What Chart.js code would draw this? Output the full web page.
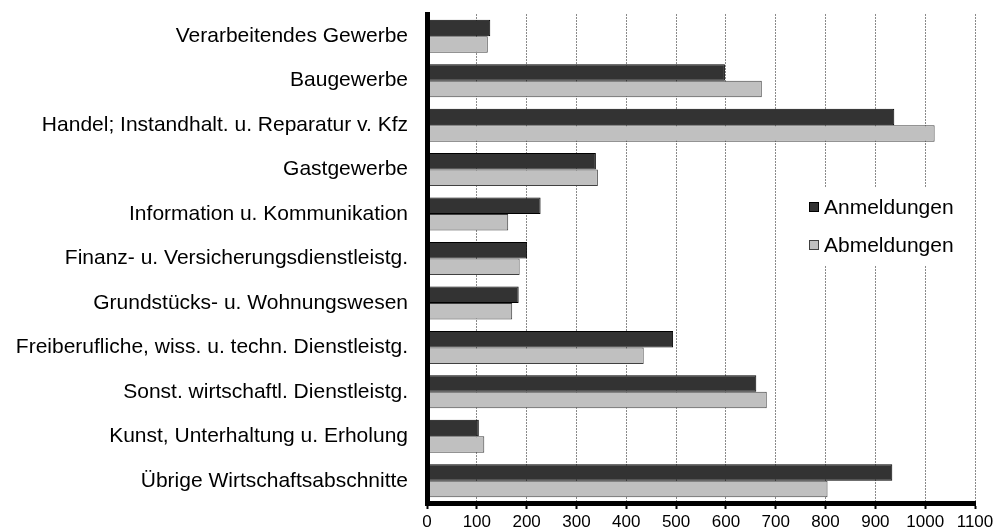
<!DOCTYPE html>
<html>
<head>
<meta charset="utf-8">
<script src="https://cdn.jsdelivr.net/npm/chart.js@4.4.1/dist/chart.umd.min.js"></script>
<style>
  html, body { margin: 0; padding: 0; background: #fff; }
  canvas { display: block; }
</style>
</head>
<body>
<canvas id="gewerbeChart" width="995" height="531"></canvas>
<script>
// Kategorien (Wirtschaftsabschnitte)
const categories = [
    'Verarbeitendes Gewerbe',
    'Baugewerbe',
    'Handel; Instandhalt. u. Reparatur v. Kfz',
    'Gastgewerbe',
    'Information u. Kommunikation',
    'Finanz- u. Versicherungsdienstleistg.',
    'Grundstücks- u. Wohnungswesen',
    'Freiberufliche, wiss. u. techn. Dienstleistg.',
    'Sonst. wirtschaftl. Dienstleistg.',
    'Kunst, Unterhaltung u. Erholung',
    'Übrige Wirtschaftsabschnitte'
];

const anmeldungen = [127, 598, 938, 339, 228, 201, 184, 494, 661, 104, 934];
const abmeldungen = [122, 672, 1019, 343, 163, 186, 171, 435, 682, 115, 804];

const xTicks = [0, 100, 200, 300, 400, 500, 600, 700, 800, 900, 1000, 1100];

const fontFamily = "'Liberation Sans', Arial, sans-serif";
Chart.defaults.color = '#000';
Chart.defaults.font.family = fontFamily;

// Legend drawn inside the plot area, on the right
const innerLegend = {
    id: 'innerLegend',
    afterDraw(chart) {
        const ctx = chart.ctx;
        ctx.save();
        ctx.fillStyle = '#fff';
        ctx.fillRect(803, 187, 162, 78);
        ctx.font = '21px ' + fontFamily;
        ctx.textBaseline = 'middle';
        chart.data.datasets.forEach(function (ds, i) {
            const y = 207 + i * 38;
            ctx.fillStyle = ds.backgroundColor;
            ctx.fillRect(809, y - 5, 10, 10);
            ctx.strokeStyle = ds.borderColor;
            ctx.lineWidth = 1;
            ctx.strokeRect(809.5, y - 4.5, 9, 9);
            ctx.fillStyle = '#000';
            ctx.fillText(ds.label, 824, y + 1);
        });
        ctx.restore();
    }
};

const ctx = document.getElementById('gewerbeChart').getContext('2d');
new Chart(ctx, {
    type: 'bar',
    data: {
        labels: categories,
        datasets: [{
            label: 'Anmeldungen',
            data: anmeldungen,
            backgroundColor: '#333333',
            borderColor: '#000000',
            borderWidth: 1,
            categoryPercentage: 0.742,
            barPercentage: 1.0
        }, {
            label: 'Abmeldungen',
            data: abmeldungen,
            backgroundColor: '#c0c0c0',
            borderColor: '#404040',
            borderWidth: 1,
            categoryPercentage: 0.742,
            barPercentage: 1.0
        }]
    },
    options: {
        indexAxis: 'y',
        responsive: false,
        animation: false,
        layout: { padding: { top: 14, right: 20, left: 0, bottom: 0 } },
        plugins: {
            legend: { display: false },
            tooltip: { enabled: false }
        },
        scales: {
            x: {
                min: 0,
                max: 1100,
                afterBuildTicks: function (scale) {
                    scale.ticks = xTicks.map(function (v) { return { value: v }; });
                },
                afterFit: function (scale) {
                    scale.height = 28;
                    scale.paddingLeft = 0;
                    scale.paddingRight = 0;
                },
                ticks: {
                    font: { size: 17 },
                    padding: 3,
                    maxRotation: 0,
                    autoSkip: false,
                    callback: function (value) { return String(value); }
                },
                grid: {
                    color: '#8a8a8a',
                    lineWidth: 1,
                    drawTicks: true,
                    tickLength: 6,
                    tickColor: '#000',
                    tickWidth: 2,
                    tickBorderDash: []
                },
                border: {
                    display: true,
                    color: '#000',
                    width: 5,
                    dash: [2, 1]
                }
            },
            y: {
                afterFit: function (scale) {
                    scale.width = 427;
                    scale.paddingTop = 0;
                    scale.paddingBottom = 0;
                },
                ticks: {
                    font: { size: 21 },
                    padding: 19,
                    autoSkip: false
                },
                grid: { display: false, drawTicks: false },
                border: {
                    display: true,
                    color: '#000',
                    width: 5,
                    z: 1
                }
            }
        }
    },
    plugins: [innerLegend]
});
</script>
</body>
</html>
